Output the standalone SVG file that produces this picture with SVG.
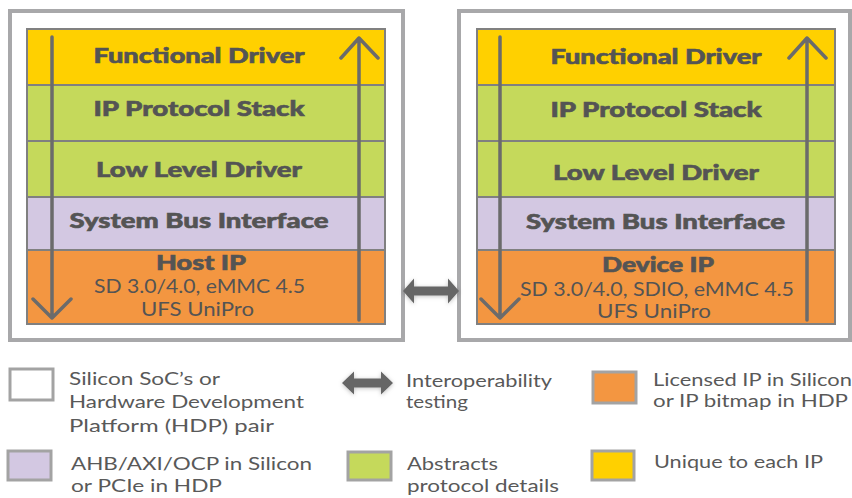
<svg xmlns="http://www.w3.org/2000/svg" width="852" height="498" viewBox="0 0 852 498">
<defs>
<style>
.outer{fill:#fff;stroke:#a8a8aa;stroke-width:4}
.layer{stroke:#808080;stroke-width:2}
.fd{fill:#ffd000}
.gr{fill:#c5d95b}
.lv{fill:#d3c8e2}
.or{fill:#f39641}
.b{font-family:Lato,"Liberation Sans",sans-serif;font-weight:900;font-size:21px;fill:#545454;stroke:#545454;stroke-width:0.6;text-anchor:middle}
.r{font-family:Lato,"Liberation Sans",sans-serif;font-weight:400;font-size:19.5px;fill:#545454;text-anchor:middle}
.lg{font-family:Lato,"Liberation Sans",sans-serif;font-weight:400;font-size:18px;fill:#595959}
.sm{font-size:17px}
.flow{fill:none;stroke:#6b6b6b;stroke-width:3.5;stroke-linecap:round;stroke-linejoin:round}
.dbl{fill:#666}
.key{stroke:#a3a3a3;stroke-width:3}
</style>
<filter id="sh" x="-30%" y="-60%" width="160%" height="220%">
<feDropShadow dx="0" dy="1" stdDeviation="2" flood-color="#000" flood-opacity="0.25"/>
</filter>
</defs>

<g id="host-platform">
<rect class="outer" x="10" y="11" width="393" height="329"/>
<g id="host-functional-driver">
<rect class="layer fd" x="27" y="29" width="358" height="56"/>
<text class="b" x="199" y="63" textLength="211" lengthAdjust="spacingAndGlyphs">Functional Driver</text>
</g>
<g id="host-protocol-stack">
<rect class="layer gr" x="27" y="85" width="358" height="56"/>
<text class="b" x="199" y="116" textLength="211" lengthAdjust="spacingAndGlyphs">IP Protocol Stack</text>
</g>
<g id="host-low-level-driver">
<rect class="layer gr" x="27" y="141" width="358" height="56"/>
<text class="b" x="199" y="177" textLength="206" lengthAdjust="spacingAndGlyphs">Low Level Driver</text>
</g>
<g id="host-system-bus">
<rect class="layer lv" x="27" y="197" width="358" height="53"/>
<text class="b" x="199" y="228" textLength="259" lengthAdjust="spacingAndGlyphs">System Bus Interface</text>
</g>
<g id="host-ip">
<rect class="layer or" x="27" y="250" width="358" height="74"/>
<text class="b" x="201" y="270" textLength="90" lengthAdjust="spacingAndGlyphs">Host IP</text>
<text class="r" x="199.5" y="293" textLength="211" lengthAdjust="spacingAndGlyphs">SD 3.0/4.0, eMMC 4.5</text>
<text class="r" x="197.5" y="316" textLength="113" lengthAdjust="spacingAndGlyphs">UFS UniPro</text>
</g>
</g>

<g id="device-platform">
<rect class="outer" x="459" y="11" width="391" height="329"/>
<g id="device-functional-driver">
<rect class="layer fd" x="477" y="29" width="358" height="56"/>
<text class="b" x="656" y="64" textLength="211" lengthAdjust="spacingAndGlyphs">Functional Driver</text>
</g>
<g id="device-protocol-stack">
<rect class="layer gr" x="477" y="85" width="358" height="56"/>
<text class="b" x="656" y="117" textLength="211" lengthAdjust="spacingAndGlyphs">IP Protocol Stack</text>
</g>
<g id="device-low-level-driver">
<rect class="layer gr" x="477" y="141" width="358" height="56"/>
<text class="b" x="656" y="180" textLength="206" lengthAdjust="spacingAndGlyphs">Low Level Driver</text>
</g>
<g id="device-system-bus">
<rect class="layer lv" x="477" y="197" width="358" height="53"/>
<text class="b" x="655.5" y="229" textLength="259" lengthAdjust="spacingAndGlyphs">System Bus Interface</text>
</g>
<g id="device-ip">
<rect class="layer or" x="477" y="250" width="358" height="74"/>
<text class="b" x="658" y="272" textLength="112" lengthAdjust="spacingAndGlyphs">Device IP</text>
<text class="r" x="657" y="296" textLength="274" lengthAdjust="spacingAndGlyphs">SD 3.0/4.0, SDIO, eMMC 4.5</text>
<text class="r" x="654" y="318" textLength="114" lengthAdjust="spacingAndGlyphs">UFS UniPro</text>
</g>
</g>

<g id="connectors">
<path class="flow" d="M52 37V318M33 299L52 318L71 299"/>
<path class="flow" d="M359 320V38M341 58L359 38L378 58"/>
<path class="flow" d="M500 37V318M481 299L500 318L519 299"/>
<path class="flow" d="M807 320V38M789 58L807 38L826 58"/>
<path class="dbl" filter="url(#sh)" d="M403 291L414 278.5V286.5H448V278.5L459 291L448 303.5V295.5H414V303.5Z"/>
</g>

<g id="legend">
<g id="legend-platform">
<rect class="key" x="10" y="369" width="43" height="31" fill="#fff"/>
<text class="lg" x="69" y="385" textLength="151" lengthAdjust="spacingAndGlyphs">Silicon SoC’s or</text>
<text class="lg" x="69" y="408" textLength="235" lengthAdjust="spacingAndGlyphs">Hardware Development</text>
<text class="lg" x="69" y="432" textLength="205" lengthAdjust="spacingAndGlyphs">Platform (HDP) pair</text>
</g>
<g id="legend-bus">
<rect class="key" x="8" y="451" width="43" height="29" fill="#d3c8e2"/>
<text class="lg" x="71" y="470" textLength="241" lengthAdjust="spacingAndGlyphs">AHB/AXI/OCP in Silicon</text>
<text class="lg" x="71" y="492" textLength="151" lengthAdjust="spacingAndGlyphs">or PCIe in HDP</text>
</g>
<g id="legend-interop">
<path class="dbl" filter="url(#sh)" d="M342 383L354 371.5V378.5H381V371.5L393 383L381 394.5V387.5H354V394.5Z"/>
<text class="lg" x="406" y="387" textLength="146" lengthAdjust="spacingAndGlyphs">Interoperability</text>
<text class="lg" x="406" y="408" textLength="62" lengthAdjust="spacingAndGlyphs">testing</text>
</g>
<g id="legend-abstracts">
<rect class="key" x="348" y="452" width="43" height="28" fill="#c5d95b"/>
<text class="lg" x="407" y="470" textLength="91" lengthAdjust="spacingAndGlyphs">Abstracts</text>
<text class="lg" x="407" y="492" textLength="152" lengthAdjust="spacingAndGlyphs">protocol details</text>
</g>
<g id="legend-licensed">
<rect class="key" x="593" y="372" width="43" height="31" fill="#f39641"/>
<text class="lg sm" x="653" y="386" textLength="199" lengthAdjust="spacingAndGlyphs">Licensed IP in Silicon</text>
<text class="lg sm" x="653" y="407" textLength="195" lengthAdjust="spacingAndGlyphs">or IP bitmap in HDP</text>
</g>
<g id="legend-unique">
<rect class="key" x="592" y="451" width="42" height="29" fill="#ffd000"/>
<text class="lg" x="654" y="468" textLength="169" lengthAdjust="spacingAndGlyphs">Unique to each IP</text>
</g>
</g>
</svg>
